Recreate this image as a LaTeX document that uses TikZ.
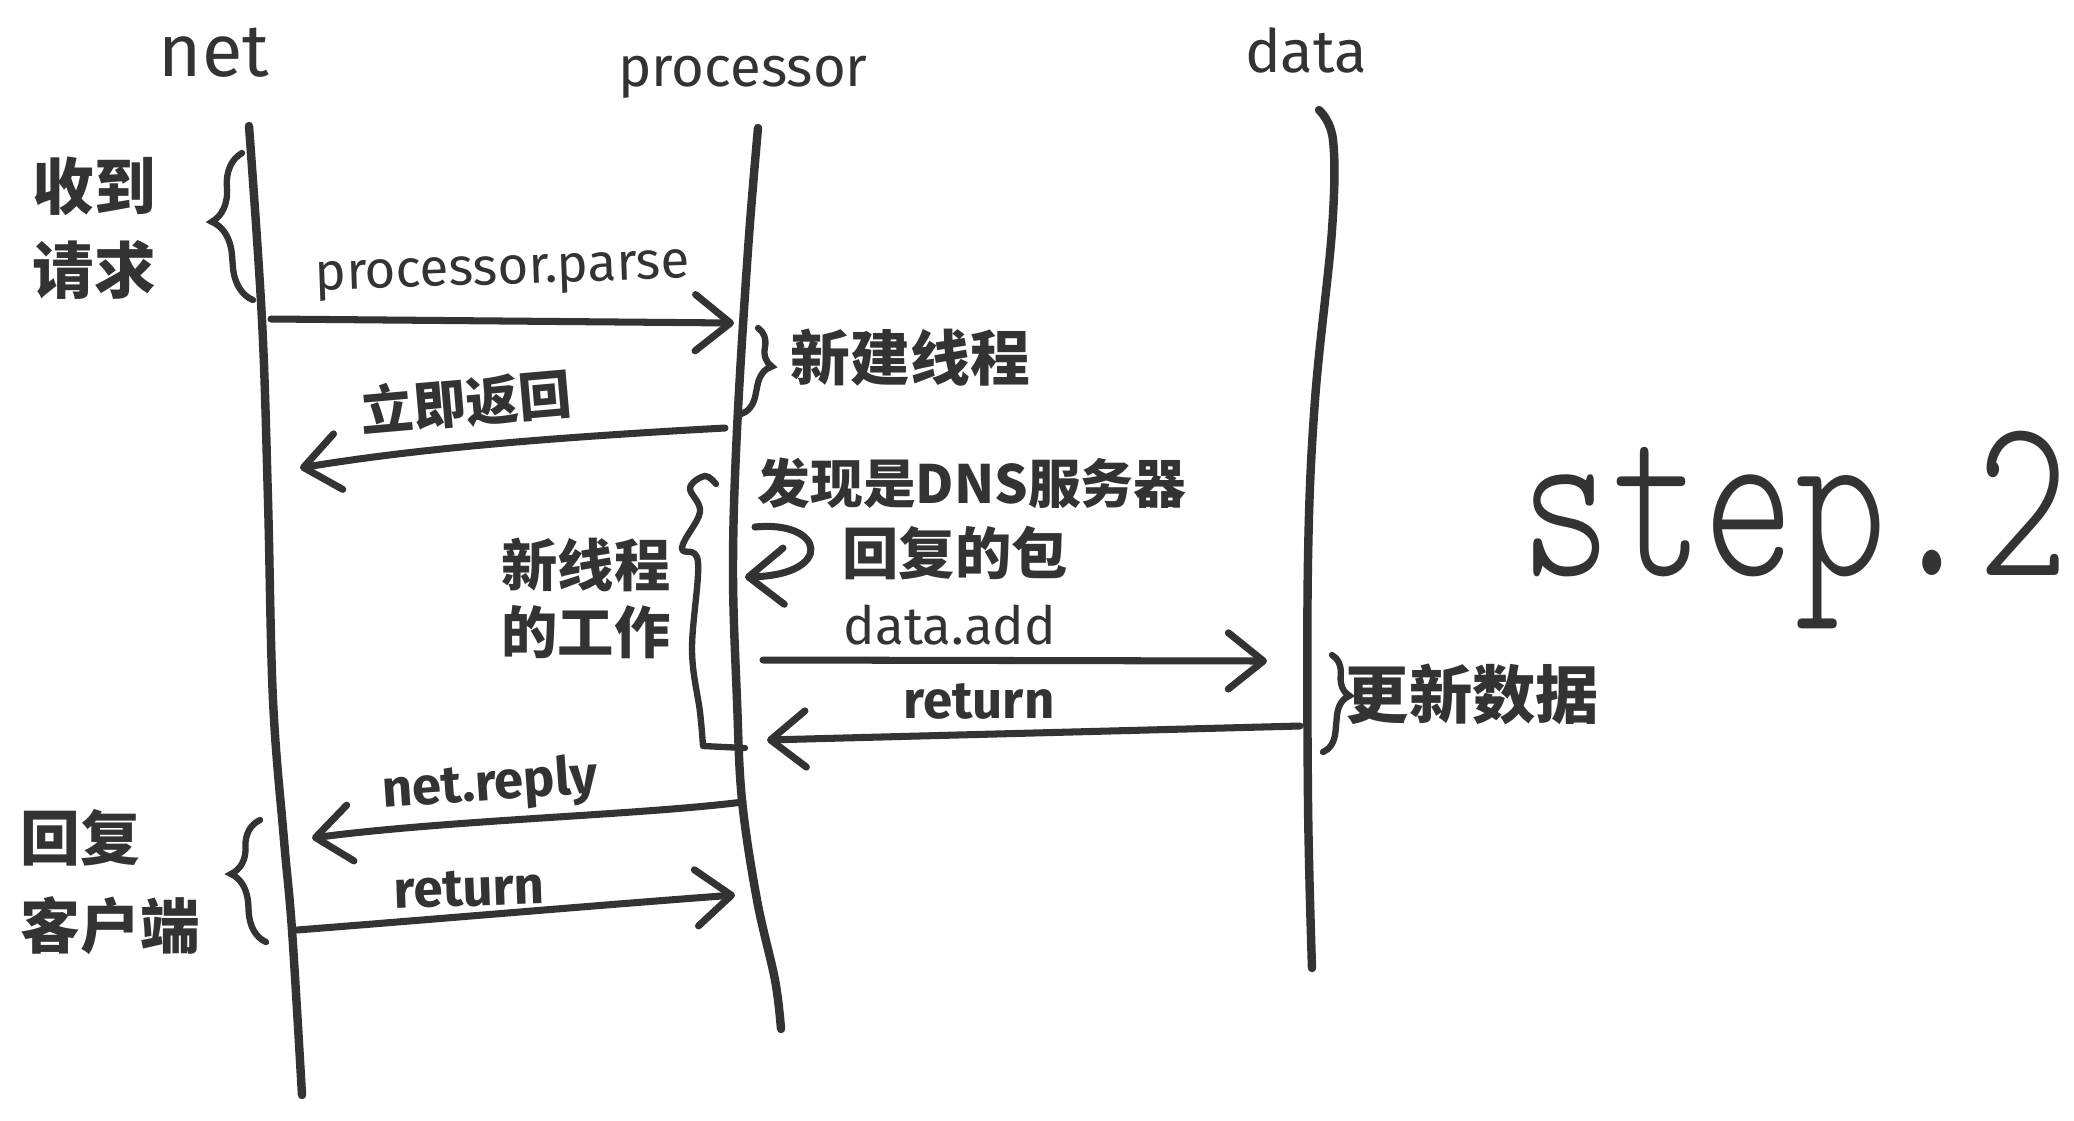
\documentclass[tikz,border=0pt]{standalone}
\usepackage{fontspec}
\usepackage{graphicx}
\setmainfont{Fira Sans}
\newfontfamily\cjk{Noto Sans CJK SC}
\newfontfamily\stepfont{lmmonolt10-regular.otf}
\usetikzlibrary{arrows.meta,decorations.pathreplacing}
\definecolor{ink}{HTML}{333333}
\begin{document}
\begin{tikzpicture}[x=0.01cm,y=-0.01cm,
  life/.style={draw=ink,line width=2.4pt,line cap=round,line join=round},
  msg/.style={draw=ink,line width=2pt,line cap=round,-{Straight Barb[length=10pt,width=16pt,round]}},
  brc/.style={draw=ink,line width=1.8pt,line cap=round,decorate,decoration={brace,amplitude=#1}},
  brc/.default=8pt,
  hook/.style={draw=ink,line width=1.8pt,line cap=round,line join=round},
  title/.style={text=ink,inner sep=0pt,anchor=base},
  lbl/.style={text=ink,inner sep=0pt,anchor=base,font=\fontsize{15}{18}\selectfont},
  blbl/.style={lbl,font=\fontsize{15}{18}\selectfont\bfseries},
  cn/.style={text=ink,inner sep=0pt,align=center,font=\cjk\bfseries\fontsize{16}{19}\selectfont},
]
\fill[white] (0,0) rectangle (2074,1120);
\useasboundingbox (0,0) rectangle (2074,1120);

% titles
\node[title,font=\fontsize{21}{24}\selectfont] (tnet) at (214,76) {net};
\node[title,font=\fontsize{16}{18}\selectfont] (tproc) at (743,86) {processor};
\node[title,font=\fontsize{17}{20}\selectfont] (tdata) at (1306,72) {data};

% lifelines
\coordinate (net0) at (249,126);
\coordinate (net1) at (302,1095);
\coordinate (proc0) at (758,128);
\coordinate (proc1) at (781,1029);
\coordinate (data0) at (1319,110);
\coordinate (data1) at (1312,968);
\draw[life] plot[smooth,tension=0.6] coordinates {(net0) (262,320) (268,500) (273,700) (284,840) (292,930) (net1)};
\draw[life] plot[smooth,tension=0.6] coordinates {(proc0) (748,250) (737,430) (733,570) (737,700) (742,800) (757,900) (775,980) (proc1)};
\draw[life] plot[smooth,tension=0.6] coordinates {(data0) (1333,140) (1332,230) (1315,400) (1308,560) (1308,800) (data1)};

% message end points
\coordinate (m1a) at (271,319);  \coordinate (m1b) at (734,323);
\coordinate (m2a) at (725,428);  \coordinate (m2b) at (300,468);
\coordinate (m3a) at (755,527);  \coordinate (m3b) at (745,577);
\coordinate (m4a) at (763,660);  \coordinate (m4b) at (1267,661);
\coordinate (m5a) at (1300,726); \coordinate (m5b) at (767,740);
\coordinate (m6a) at (743,802);  \coordinate (m6b) at (312,838);
\coordinate (m7a) at (297,930);  \coordinate (m7b) at (735,895);

\draw[msg] (m1a) -- (m1b);
\draw[msg] (m2a) .. controls (560,437) and (420,448) .. (m2b);
\draw[msg] (m3a) .. controls (825,520) and (835,575) .. (m3b);
\draw[msg] (m4a) -- (m4b);
\draw[msg] (m5a) -- (m5b);
\draw[msg] (m6a) .. controls (640,815) and (450,820) .. (m6b);
\draw[msg] (m7a) .. controls (450,918) and (600,905) .. (m7b);

% message labels
\node[lbl,rotate=2] (l1) at (503,284) {processor.parse};
\node[cn,font=\cjk\bfseries\fontsize{15}{18}\selectfont,rotate=5] (l2) at (466,402) {立即返回};
\node[lbl] (l4) at (950,644) {data.add};
\node[blbl] (l5) at (979,718) {return};
\node[blbl,rotate=4] (l6) at (491,800) {net.reply};
\node[blbl,rotate=2] (l7) at (470,906) {return};

% braces
\draw[brc=10pt,decoration={aspect=0.55}] (253,300) -- (242,153);
\draw[brc=6pt,decoration={aspect=0.4}] (758,328) -- (741,414);
\coordinate (b3end) at (745,748);
\draw[hook] plot[smooth,tension=0.6] coordinates {(716,484) (705,476) (690,488) (700,512) (682,548) (698,562) (692,650) (700,712) (703,746)} -- (b3end);
\draw[brc=6pt,decoration={aspect=0.4}] (1332,655) -- (1323,752);
\draw[brc=9pt,decoration={aspect=0.57}] (266,942) -- (260,820);

% brace / note texts
\node[cn,align=left,anchor=west,font=\cjk\bfseries\fontsize{17.5}{24}\selectfont] (n1) at (32,228) {收到\\请求};
\node[cn,anchor=west,font=\cjk\bfseries\fontsize{17}{20}\selectfont] (n2) at (790,358) {新建线程};
\node[cn,font=\cjk\bfseries\fontsize{15}{18}\selectfont] (n3a) at (972,483) {发现是DNS服务器};
\node[cn] (n3b) at (955,553) {回复的包};
\node[cn] (n4) at (586,598) {新线程\\的工作};
\node[cn,anchor=west,font=\cjk\bfseries\fontsize{18}{20}\selectfont] (n5) at (1345,694) {更新数据};
\node[cn,align=left,anchor=west,font=\cjk\bfseries\fontsize{17}{25}\selectfont] (n6) at (20,882) {回复\\客户端};

% step.2
\node[text=ink,inner sep=0pt,font=\stepfont\fontsize{66}{70}\selectfont] (step) at (1795,530) {\scalebox{0.75}[1]{step.2}};
\end{tikzpicture}
\end{document}
